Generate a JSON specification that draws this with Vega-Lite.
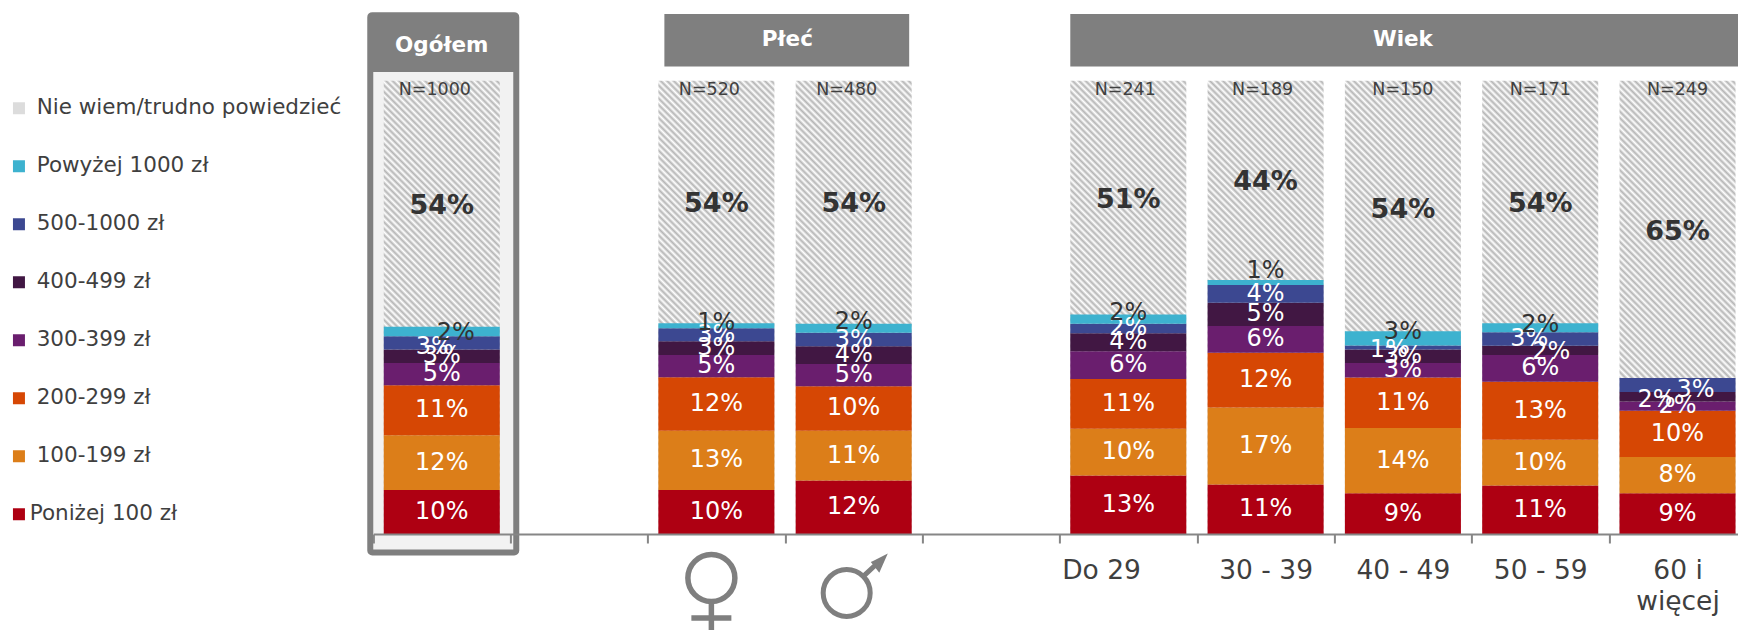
{
"$schema":"https://vega.github.io/schema/vega-lite/v6.json",
"background":"white",
"padding":{"left":7.4,"top":12,"right":0,"bottom":0},
"width":1364.4,"height":520,
"config":{"font":"DejaVu Sans","view":{"stroke":null}},
"data":{"values":[
{"col":"Ogółem","seg":"Poniżej 100 zł","value":9.7},{"col":"Ogółem","seg":"100-199 zł","value":12.1},{"col":"Ogółem","seg":"200-299 zł","value":11},{"col":"Ogółem","seg":"300-399 zł","value":4.9},{"col":"Ogółem","seg":"400-499 zł","value":3},{"col":"Ogółem","seg":"500-1000 zł","value":2.9},{"col":"Ogółem","seg":"Powyżej 1000 zł","value":2.1},{"col":"Ogółem","seg":"Nie wiem/trudno powiedzieć","value":54.3},
{"col":"Kobiety","seg":"Poniżej 100 zł","value":9.7},{"col":"Kobiety","seg":"100-199 zł","value":13.1},{"col":"Kobiety","seg":"200-299 zł","value":11.8},{"col":"Kobiety","seg":"300-399 zł","value":4.9},{"col":"Kobiety","seg":"400-499 zł","value":3},{"col":"Kobiety","seg":"500-1000 zł","value":2.9},{"col":"Kobiety","seg":"Powyżej 1000 zł","value":1.1},{"col":"Kobiety","seg":"Nie wiem/trudno powiedzieć","value":53.6},
{"col":"Mężczyźni","seg":"Poniżej 100 zł","value":11.8},{"col":"Mężczyźni","seg":"100-199 zł","value":11},{"col":"Mężczyźni","seg":"200-299 zł","value":9.8},{"col":"Mężczyźni","seg":"300-399 zł","value":4.9},{"col":"Mężczyźni","seg":"400-499 zł","value":3.9},{"col":"Mężczyźni","seg":"500-1000 zł","value":3},{"col":"Mężczyźni","seg":"Powyżej 1000 zł","value":2},{"col":"Mężczyźni","seg":"Nie wiem/trudno powiedzieć","value":53.6},
{"col":"Do 29","seg":"Poniżej 100 zł","value":12.9},{"col":"Do 29","seg":"100-199 zł","value":10.3},{"col":"Do 29","seg":"200-299 zł","value":11},{"col":"Do 29","seg":"300-399 zł","value":6.1},{"col":"Do 29","seg":"400-499 zł","value":4},{"col":"Do 29","seg":"500-1000 zł","value":2.1},{"col":"Do 29","seg":"Powyżej 1000 zł","value":2},{"col":"Do 29","seg":"Nie wiem/trudno powiedzieć","value":51.4},
{"col":"30 - 39","seg":"Poniżej 100 zł","value":10.9},{"col":"30 - 39","seg":"100-199 zł","value":17},{"col":"30 - 39","seg":"200-299 zł","value":12.1},{"col":"30 - 39","seg":"300-399 zł","value":5.9},{"col":"30 - 39","seg":"400-499 zł","value":5.1},{"col":"30 - 39","seg":"500-1000 zł","value":3.9},{"col":"30 - 39","seg":"Powyżej 1000 zł","value":1.1},{"col":"30 - 39","seg":"Nie wiem/trudno powiedzieć","value":44},
{"col":"40 - 49","seg":"Poniżej 100 zł","value":9},{"col":"40 - 49","seg":"100-199 zł","value":14.4},{"col":"40 - 49","seg":"200-299 zł","value":11.1},{"col":"40 - 49","seg":"300-399 zł","value":3.2},{"col":"40 - 49","seg":"400-499 zł","value":3},{"col":"40 - 49","seg":"500-1000 zł","value":0.9},{"col":"40 - 49","seg":"Powyżej 1000 zł","value":3.1},{"col":"40 - 49","seg":"Nie wiem/trudno powiedzieć","value":54.4},
{"col":"50 - 59","seg":"Poniżej 100 zł","value":10.7},{"col":"50 - 59","seg":"100-199 zł","value":10.1},{"col":"50 - 59","seg":"200-299 zł","value":12.8},{"col":"50 - 59","seg":"300-399 zł","value":5.9},{"col":"50 - 59","seg":"400-499 zł","value":2},{"col":"50 - 59","seg":"500-1000 zł","value":3},{"col":"50 - 59","seg":"Powyżej 1000 zł","value":2},{"col":"50 - 59","seg":"Nie wiem/trudno powiedzieć","value":53.6},
{"col":"60 i więcej","seg":"Poniżej 100 zł","value":9},{"col":"60 i więcej","seg":"100-199 zł","value":8},{"col":"60 i więcej","seg":"200-299 zł","value":10.2},{"col":"60 i więcej","seg":"300-399 zł","value":2},{"col":"60 i więcej","seg":"400-499 zł","value":2.1},{"col":"60 i więcej","seg":"500-1000 zł","value":3.1},{"col":"60 i więcej","seg":"Nie wiem/trudno powiedzieć","value":65.4}
]},
"transform":[
{"calculate":"indexof(['Poniżej 100 zł','100-199 zł','200-299 zł','300-399 zł','400-499 zł','500-1000 zł','Powyżej 1000 zł','Nie wiem/trudno powiedzieć'],datum.seg)","as":"order"},
{"stack":"value","groupby":["col"],"sort":[{"field":"order","order":"ascending"}],"as":["y0","y1"]},
{"calculate":"(datum.y0+datum.y1)/2","as":"mid"},
{"calculate":"datum.value/100","as":"pct"}
],
"encoding":{
"x":{"field":"col","type":"nominal","title":null,"scale":{"domain":["Ogółem","_1","Kobiety","Mężczyźni","_2","Do 29","30 - 39","40 - 49","50 - 59","60 i więcej"],"paddingInner":0.155,"paddingOuter":0.046,"align":0.82},
"axis":{"bandPosition":0,"tickOffset":-10.6,"tickSize":9,"tickWidth":2,"tickColor":"#868686","domainColor":"#868686","domainWidth":2,"zindex":1,"labelAngle":0,"labelOverlap":false,"labelFontSize":26.5,"labelColor":"#3f3f3f","labelPadding":15,"labelLineHeight":31,"labelBaseline":"top",
"labelOffset":{"condition":{"test":"datum.value=='Do 29'","value":-16.7},"value":10.6},
"labelExpr":"datum.value=='60 i więcej' ? ['60 i','więcej'] : (datum.value=='Ogółem'||datum.value=='_1'||datum.value=='Kobiety'||datum.value=='Mężczyźni'||datum.value=='_2') ? '' : datum.label"}},
"y":{"type":"quantitative","scale":{"domain":[0,114.7]},"axis":null}},
"layer":[
{"data":{"values":[{"from":"Ogółem","to":"Ogółem"}]},"mark":{"type":"rect","fill":"#f2f2f2","stroke":"#7f7f7f","strokeWidth":6,"cornerRadius":2,"xOffset":-71.5,"x2Offset":74.5},"encoding":{"x":{"field":"from","type":"nominal"},"x2":{"field":"to"},"y":{"datum":-4.1,"type":"quantitative"},"y2":{"datum":114.45}}},
{"data":{"values":[{"from":"Ogółem","to":"Ogółem"}]},"mark":{"type":"rect","fill":"#7f7f7f","xOffset":-71.5,"x2Offset":74.5},"encoding":{"x":{"field":"from","type":"nominal"},"x2":{"field":"to"},"y":{"datum":101.9,"type":"quantitative"},"y2":{"datum":114.45}}},
{"data":{"values":[{"from":"Kobiety","to":"Mężczyźni"}]},"mark":{"type":"rect","fill":"#7f7f7f","xOffset":-52,"x2Offset":55.5},"encoding":{"x":{"field":"from","type":"nominal"},"x2":{"field":"to"},"y":{"datum":103.1,"type":"quantitative"},"y2":{"datum":114.7}}},
{"data":{"values":[{"from":"Do 29","to":"60 i więcej"}]},"mark":{"type":"rect","fill":"#7f7f7f","xOffset":-58,"x2Offset":61.3},"encoding":{"x":{"field":"from","type":"nominal"},"x2":{"field":"to"},"y":{"datum":103.1,"type":"quantitative"},"y2":{"datum":114.7}}},
{"data":{"values":[{"group":"Ogółem","center":"Ogółem"}]},"mark":{"type":"text","fontWeight":"bold","fontSize":21.5,"color":"#ffffff"},"encoding":{"x":{"field":"center","type":"nominal"},"y":{"datum":107.7,"type":"quantitative"},"text":{"field":"group"}}},
{"data":{"values":[{"group":"Wiek","center":"40 - 49"}]},"mark":{"type":"text","fontWeight":"bold","fontSize":21.5,"color":"#ffffff"},"encoding":{"x":{"field":"center","type":"nominal"},"y":{"datum":109,"type":"quantitative"},"text":{"field":"group"}}},
{"data":{"values":[{"group":"Płeć","center":"Kobiety"}]},"mark":{"type":"text","fontWeight":"bold","fontSize":21.5,"color":"#ffffff","dx":71},"encoding":{"x":{"field":"center","type":"nominal"},"y":{"datum":109,"type":"quantitative"},"text":{"field":"group"}}},
{"data":{"values":[{"col":"Ogółem"},{"col":"Kobiety"},{"col":"Mężczyźni"},{"col":"Do 29"},{"col":"30 - 39"},{"col":"40 - 49"},{"col":"50 - 59"},{"col":"60 i więcej"}]},"mark":{"type":"bar","fill":{"gradient":"linear","x1":1,"y1":0,"x2":0.6546,"y2":1.3488,"stops":[
{"offset":0,"color":"#fff"},{"offset":0.005,"color":"#b5b5b5"},{"offset":0.01,"color":"#fff"},{"offset":0.015,"color":"#b5b5b5"},{"offset":0.02,"color":"#fff"},{"offset":0.025,"color":"#b5b5b5"},{"offset":0.03,"color":"#fff"},{"offset":0.035,"color":"#b5b5b5"},{"offset":0.04,"color":"#fff"},{"offset":0.045,"color":"#b5b5b5"},
{"offset":0.05,"color":"#fff"},{"offset":0.055,"color":"#b5b5b5"},{"offset":0.06,"color":"#fff"},{"offset":0.065,"color":"#b5b5b5"},{"offset":0.07,"color":"#fff"},{"offset":0.075,"color":"#b5b5b5"},{"offset":0.08,"color":"#fff"},{"offset":0.085,"color":"#b5b5b5"},{"offset":0.09,"color":"#fff"},{"offset":0.095,"color":"#b5b5b5"},
{"offset":0.1,"color":"#fff"},{"offset":0.105,"color":"#b5b5b5"},{"offset":0.11,"color":"#fff"},{"offset":0.115,"color":"#b5b5b5"},{"offset":0.12,"color":"#fff"},{"offset":0.125,"color":"#b5b5b5"},{"offset":0.13,"color":"#fff"},{"offset":0.135,"color":"#b5b5b5"},{"offset":0.14,"color":"#fff"},{"offset":0.145,"color":"#b5b5b5"},
{"offset":0.15,"color":"#fff"},{"offset":0.155,"color":"#b5b5b5"},{"offset":0.16,"color":"#fff"},{"offset":0.165,"color":"#b5b5b5"},{"offset":0.17,"color":"#fff"},{"offset":0.175,"color":"#b5b5b5"},{"offset":0.18,"color":"#fff"},{"offset":0.185,"color":"#b5b5b5"},{"offset":0.19,"color":"#fff"},{"offset":0.195,"color":"#b5b5b5"},
{"offset":0.2,"color":"#fff"},{"offset":0.205,"color":"#b5b5b5"},{"offset":0.21,"color":"#fff"},{"offset":0.215,"color":"#b5b5b5"},{"offset":0.22,"color":"#fff"},{"offset":0.225,"color":"#b5b5b5"},{"offset":0.23,"color":"#fff"},{"offset":0.235,"color":"#b5b5b5"},{"offset":0.24,"color":"#fff"},{"offset":0.245,"color":"#b5b5b5"},
{"offset":0.25,"color":"#fff"},{"offset":0.255,"color":"#b5b5b5"},{"offset":0.26,"color":"#fff"},{"offset":0.265,"color":"#b5b5b5"},{"offset":0.27,"color":"#fff"},{"offset":0.275,"color":"#b5b5b5"},{"offset":0.28,"color":"#fff"},{"offset":0.285,"color":"#b5b5b5"},{"offset":0.29,"color":"#fff"},{"offset":0.295,"color":"#b5b5b5"},
{"offset":0.3,"color":"#fff"},{"offset":0.305,"color":"#b5b5b5"},{"offset":0.31,"color":"#fff"},{"offset":0.315,"color":"#b5b5b5"},{"offset":0.32,"color":"#fff"},{"offset":0.325,"color":"#b5b5b5"},{"offset":0.33,"color":"#fff"},{"offset":0.335,"color":"#b5b5b5"},{"offset":0.34,"color":"#fff"},{"offset":0.345,"color":"#b5b5b5"},
{"offset":0.35,"color":"#fff"},{"offset":0.355,"color":"#b5b5b5"},{"offset":0.36,"color":"#fff"},{"offset":0.365,"color":"#b5b5b5"},{"offset":0.37,"color":"#fff"},{"offset":0.375,"color":"#b5b5b5"},{"offset":0.38,"color":"#fff"},{"offset":0.385,"color":"#b5b5b5"},{"offset":0.39,"color":"#fff"},{"offset":0.395,"color":"#b5b5b5"},
{"offset":0.4,"color":"#fff"},{"offset":0.405,"color":"#b5b5b5"},{"offset":0.41,"color":"#fff"},{"offset":0.415,"color":"#b5b5b5"},{"offset":0.42,"color":"#fff"},{"offset":0.425,"color":"#b5b5b5"},{"offset":0.43,"color":"#fff"},{"offset":0.435,"color":"#b5b5b5"},{"offset":0.44,"color":"#fff"},{"offset":0.445,"color":"#b5b5b5"},
{"offset":0.45,"color":"#fff"},{"offset":0.455,"color":"#b5b5b5"},{"offset":0.46,"color":"#fff"},{"offset":0.465,"color":"#b5b5b5"},{"offset":0.47,"color":"#fff"},{"offset":0.475,"color":"#b5b5b5"},{"offset":0.48,"color":"#fff"},{"offset":0.485,"color":"#b5b5b5"},{"offset":0.49,"color":"#fff"},{"offset":0.495,"color":"#b5b5b5"},
{"offset":0.5,"color":"#fff"},{"offset":0.505,"color":"#b5b5b5"},{"offset":0.51,"color":"#fff"},{"offset":0.515,"color":"#b5b5b5"},{"offset":0.52,"color":"#fff"},{"offset":0.525,"color":"#b5b5b5"},{"offset":0.53,"color":"#fff"},{"offset":0.535,"color":"#b5b5b5"},{"offset":0.54,"color":"#fff"},{"offset":0.545,"color":"#b5b5b5"},
{"offset":0.55,"color":"#fff"},{"offset":0.555,"color":"#b5b5b5"},{"offset":0.56,"color":"#fff"},{"offset":0.565,"color":"#b5b5b5"},{"offset":0.57,"color":"#fff"},{"offset":0.575,"color":"#b5b5b5"},{"offset":0.58,"color":"#fff"},{"offset":0.585,"color":"#b5b5b5"},{"offset":0.59,"color":"#fff"},{"offset":0.595,"color":"#b5b5b5"},
{"offset":0.6,"color":"#fff"},{"offset":0.605,"color":"#b5b5b5"},{"offset":0.61,"color":"#fff"},{"offset":0.615,"color":"#b5b5b5"},{"offset":0.62,"color":"#fff"},{"offset":0.625,"color":"#b5b5b5"},{"offset":0.63,"color":"#fff"},{"offset":0.635,"color":"#b5b5b5"},{"offset":0.64,"color":"#fff"},{"offset":0.645,"color":"#b5b5b5"},
{"offset":0.65,"color":"#fff"},{"offset":0.655,"color":"#b5b5b5"},{"offset":0.66,"color":"#fff"},{"offset":0.665,"color":"#b5b5b5"},{"offset":0.67,"color":"#fff"},{"offset":0.675,"color":"#b5b5b5"},{"offset":0.68,"color":"#fff"},{"offset":0.685,"color":"#b5b5b5"},{"offset":0.69,"color":"#fff"},{"offset":0.695,"color":"#b5b5b5"},
{"offset":0.7,"color":"#fff"},{"offset":0.705,"color":"#b5b5b5"},{"offset":0.71,"color":"#fff"},{"offset":0.715,"color":"#b5b5b5"},{"offset":0.72,"color":"#fff"},{"offset":0.725,"color":"#b5b5b5"},{"offset":0.73,"color":"#fff"},{"offset":0.735,"color":"#b5b5b5"},{"offset":0.74,"color":"#fff"},{"offset":0.745,"color":"#b5b5b5"},
{"offset":0.75,"color":"#fff"},{"offset":0.755,"color":"#b5b5b5"},{"offset":0.76,"color":"#fff"},{"offset":0.765,"color":"#b5b5b5"},{"offset":0.77,"color":"#fff"},{"offset":0.775,"color":"#b5b5b5"},{"offset":0.78,"color":"#fff"},{"offset":0.785,"color":"#b5b5b5"},{"offset":0.79,"color":"#fff"},{"offset":0.795,"color":"#b5b5b5"},
{"offset":0.8,"color":"#fff"},{"offset":0.805,"color":"#b5b5b5"},{"offset":0.81,"color":"#fff"},{"offset":0.815,"color":"#b5b5b5"},{"offset":0.82,"color":"#fff"},{"offset":0.825,"color":"#b5b5b5"},{"offset":0.83,"color":"#fff"},{"offset":0.835,"color":"#b5b5b5"},{"offset":0.84,"color":"#fff"},{"offset":0.845,"color":"#b5b5b5"},
{"offset":0.85,"color":"#fff"},{"offset":0.855,"color":"#b5b5b5"},{"offset":0.86,"color":"#fff"},{"offset":0.865,"color":"#b5b5b5"},{"offset":0.87,"color":"#fff"},{"offset":0.875,"color":"#b5b5b5"},{"offset":0.88,"color":"#fff"}
]},"opacity":1},"encoding":{"y":{"datum":0,"type":"quantitative"},"y2":{"datum":100}}},
{"transform":[{"filter":"datum.seg!='Nie wiem/trudno powiedzieć'"}],"mark":{"type":"bar"},"encoding":{"y":{"field":"y0","type":"quantitative"},"y2":{"field":"y1"},
"color":{"field":"seg","type":"nominal","scale":{"domain":["Nie wiem/trudno powiedzieć","Powyżej 1000 zł","500-1000 zł","400-499 zł","300-399 zł","200-299 zł","100-199 zł","Poniżej 100 zł"],"range":["#dcdcdc","#3db2cf","#3c4891","#411743","#6a1e6e","#d64704","#dc7e19","#ae0012"]},
"legend":{"orient":"none","legendX":-365.2,"legendY":83.5,"title":null,"symbolType":"square","symbolSize":144,"symbolStrokeWidth":0,"labelFontSize":21.5,"labelColor":"#3f3f3f","labelOffset":7,"rowPadding":35,"padding":0,"labelLimit":400,"encode":{"labels":{"update":{"dx":{"signal":"datum.value=='Poniżej 100 zł'?-7:0"}}}}}}}},
{"transform":[{"filter":"datum.seg=='Nie wiem/trudno powiedzieć'"}],"mark":{"type":"text","fontWeight":"bold","fontSize":27,"color":"#333333","dy":2},"encoding":{"y":{"field":"mid"},"text":{"field":"pct","type":"quantitative","format":".0%"}}},
{"transform":[{"filter":"datum.seg!='Nie wiem/trudno powiedzieć' && datum.seg!='Powyżej 1000 zł' && !((datum.seg=='500-1000 zł' && (datum.col=='Ogółem'||datum.col=='40 - 49'||datum.col=='50 - 59'||datum.col=='60 i więcej')) || (datum.seg=='400-499 zł' && (datum.col=='50 - 59'||datum.col=='60 i więcej')))"}],"mark":{"type":"text","fontSize":24,"color":"#ffffff"},"encoding":{"y":{"field":"mid"},"text":{"field":"pct","type":"quantitative","format":".0%"}}},
{"transform":[{"filter":"datum.col=='Ogółem' && datum.seg=='500-1000 zł'"}],"mark":{"type":"text","fontSize":24,"color":"#ffffff","dx":-7,"dy":4},"encoding":{"y":{"field":"mid"},"text":{"field":"pct","type":"quantitative","format":".0%"}}},
{"transform":[{"filter":"datum.col=='40 - 49' && datum.seg=='500-1000 zł'"}],"mark":{"type":"text","fontSize":24,"color":"#ffffff","dx":-14,"dy":3},"encoding":{"y":{"field":"mid"},"text":{"field":"pct","type":"quantitative","format":".0%"}}},
{"transform":[{"filter":"datum.col=='50 - 59' && datum.seg=='500-1000 zł'"}],"mark":{"type":"text","fontSize":24,"color":"#ffffff","dx":-11},"encoding":{"y":{"field":"mid"},"text":{"field":"pct","type":"quantitative","format":".0%"}}},
{"transform":[{"filter":"datum.col=='50 - 59' && datum.seg=='400-499 zł'"}],"mark":{"type":"text","fontSize":24,"color":"#ffffff","dx":11,"dy":2},"encoding":{"y":{"field":"mid"},"text":{"field":"pct","type":"quantitative","format":".0%"}}},
{"transform":[{"filter":"datum.col=='60 i więcej' && datum.seg=='500-1000 zł'"}],"mark":{"type":"text","fontSize":24,"color":"#ffffff","dx":18,"dy":5},"encoding":{"y":{"field":"mid"},"text":{"field":"pct","type":"quantitative","format":".0%"}}},
{"transform":[{"filter":"datum.col=='60 i więcej' && datum.seg=='400-499 zł'"}],"mark":{"type":"text","fontSize":24,"color":"#ffffff","dx":-21,"dy":3},"encoding":{"y":{"field":"mid"},"text":{"field":"pct","type":"quantitative","format":".0%"}}},
{"transform":[{"filter":"datum.col=='Ogółem' && datum.seg=='Powyżej 1000 zł'"}],"mark":{"type":"text","fontSize":24,"color":"#333333","dx":14,"dy":1},"encoding":{"y":{"field":"mid"},"text":{"field":"pct","type":"quantitative","format":".0%"}}},
{"transform":[{"filter":"(datum.col=='Kobiety'||datum.col=='50 - 59') && datum.seg=='Powyżej 1000 zł'"}],"mark":{"type":"text","fontSize":24,"color":"#333333","dy":-3},"encoding":{"y":{"field":"mid"},"text":{"field":"pct","type":"quantitative","format":".0%"}}},
{"transform":[{"filter":"(datum.col=='Mężczyźni'||datum.col=='Do 29'||datum.col=='40 - 49') && datum.seg=='Powyżej 1000 zł'"}],"mark":{"type":"text","fontSize":24,"color":"#333333","dy":-6},"encoding":{"y":{"field":"mid"},"text":{"field":"pct","type":"quantitative","format":".0%"}}},
{"transform":[{"filter":"datum.col=='30 - 39' && datum.seg=='Powyżej 1000 zł'"}],"mark":{"type":"text","fontSize":24,"color":"#333333","dy":-12},"encoding":{"y":{"field":"mid"},"text":{"field":"pct","type":"quantitative","format":".0%"}}},
{"data":{"values":[{"col":"Ogółem","n":1000},{"col":"Kobiety","n":520},{"col":"Mężczyźni","n":480}]},"transform":[{"calculate":"'N='+datum.n","as":"ntext"}],"mark":{"type":"text","fontSize":17.5,"color":"#404040","dx":-7},"encoding":{"y":{"datum":98,"type":"quantitative"},"text":{"field":"ntext"}}},
{"data":{"values":[{"col":"Do 29","n":241},{"col":"30 - 39","n":189}]},"transform":[{"calculate":"'N='+datum.n","as":"ntext"}],"mark":{"type":"text","fontSize":17.5,"color":"#404040","dx":-3},"encoding":{"y":{"datum":98,"type":"quantitative"},"text":{"field":"ntext"}}},
{"data":{"values":[{"col":"40 - 49","n":150},{"col":"50 - 59","n":171},{"col":"60 i więcej","n":249}]},"transform":[{"calculate":"'N='+datum.n","as":"ntext"}],"mark":{"type":"text","fontSize":17.5,"color":"#404040"},"encoding":{"y":{"datum":98,"type":"quantitative"},"text":{"field":"ntext"}}},
{"data":{"values":[{"col":"Kobiety"}]},"mark":{"type":"point","filled":false,"size":4,"opacity":1,"stroke":"#7f7f7f","strokeWidth":5.5,"shape":"M-28.5,0A23.5,23.5 0 1 1 18.5,0A23.5,23.5 0 1 1 -28.5,0M-5,23.5V60M-25,40H15"},"encoding":{"y":{"datum":-9.7,"type":"quantitative"}}},
{"data":{"values":[{"col":"Mężczyźni"}]},"mark":{"type":"point","filled":false,"size":4,"opacity":1,"stroke":"#7f7f7f","strokeWidth":5,"shape":"M-30.5,15A23.5,23.5 0 1 1 16.5,15A23.5,23.5 0 1 1 -30.5,15M9.6,-1.6L25,-16M21,-15L29,-19L25,-10Z"},"encoding":{"y":{"datum":-9.7,"type":"quantitative"}}}
]}
